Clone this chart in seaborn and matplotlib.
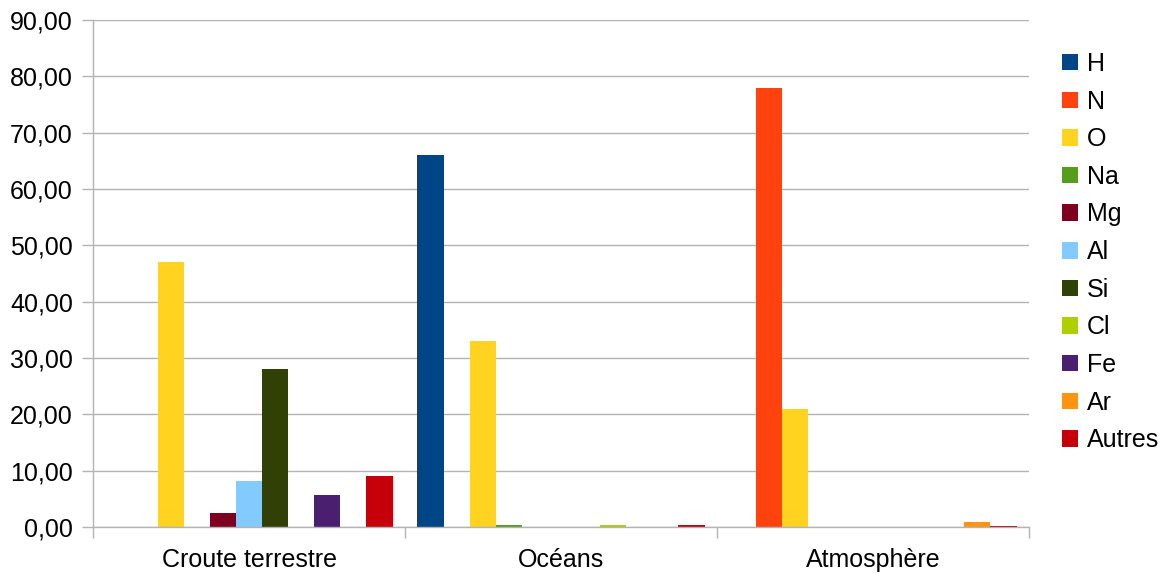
import matplotlib
matplotlib.use("Agg")
import matplotlib.pyplot as plt
import matplotlib.ticker as mticker
import pandas as pd
import seaborn as sns

# Composition (% massique) par milieu
milieux = ["Croute terrestre", "Océans", "Atmosphère"]
elements = ["H", "N", "O", "Na", "Mg", "Al", "Si", "Cl", "Fe", "Ar", "Autres"]
croute = [0, 0, 47.0, 0, 2.5, 8.1, 28.0, 0, 5.6, 0, 9.0]
oceans = [66.0, 0, 33.0, 0.3, 0, 0, 0, 0.3, 0, 0, 0.4]
atmosphere = [0, 78.0, 21.0, 0, 0, 0, 0, 0, 0, 0.93, 0.1]
couleurs = ["#004586", "#ff420e", "#ffd320", "#579d1c", "#7e0021", "#83caff",
            "#314004", "#aecf00", "#4b1f6f", "#ff950e", "#c5000b"]

rows = []
for milieu, vals in zip(milieux, [croute, oceans, atmosphere]):
    for el, v in zip(elements, vals):
        rows.append({"milieu": milieu, "element": el, "valeur": v})
df = pd.DataFrame(rows)

sns.set_style("white")
plt.rcParams["font.family"] = ["Liberation Sans", "DejaVu Sans"]
plt.rcParams["text.color"] = "black"
plt.rcParams["xtick.color"] = "black"
plt.rcParams["ytick.color"] = "black"

fig = plt.figure(figsize=(11.67, 5.75), dpi=100)
ax = fig.add_axes([93 / 1167, 1 - 527 / 575, (1029 - 93) / 1167, (527 - 20) / 575])

sns.barplot(data=df, x="milieu", y="valeur", hue="element", order=milieux,
            hue_order=elements, palette=couleurs, width=0.92, gap=0,
            saturation=1, errorbar=None, ax=ax, linewidth=0)

ax.set_xlim(-0.5, 2.5)
ax.set_ylim(0, 90)
ax.set_yticks(range(0, 91, 10))
ax.yaxis.set_major_formatter(mticker.FuncFormatter(lambda v, p: f"{v:.2f}".replace(".", ",")))
ax.set_xlabel("")
ax.set_ylabel("")

ax.set_axisbelow(True)
ax.grid(axis="y", color="#b3b3b3", linewidth=1.0)
ax.grid(axis="x", visible=False)
for s in ["top", "right"]:
    ax.spines[s].set_visible(False)
for s in ["left", "bottom"]:
    ax.spines[s].set_color("#b3b3b3")
    ax.spines[s].set_linewidth(1.0)

ax.tick_params(axis="y", which="major", length=8, width=1, color="#b3b3b3",
               labelcolor="black", labelsize=18, pad=6.5, left=True)
ax.tick_params(axis="x", which="major", length=0, labelsize=18, labelcolor="black", pad=15)
ax.set_xticks([-0.5, 0.5, 1.5, 2.5], minor=True)
ax.tick_params(axis="x", which="minor", length=8, width=1, color="#b3b3b3", bottom=True)

handles, labels = ax.get_legend_handles_labels()
ax.legend(handles, labels, loc="upper left", bbox_to_anchor=(1062 / 1167, 1 - 52 / 575),
          bbox_transform=fig.transFigure, frameon=False, fontsize=18,
          handlelength=0.64, handleheight=0.64, handletextpad=0.36, labelspacing=0.545,
          borderaxespad=0, borderpad=0)

fig.savefig("out.png", dpi=100)
